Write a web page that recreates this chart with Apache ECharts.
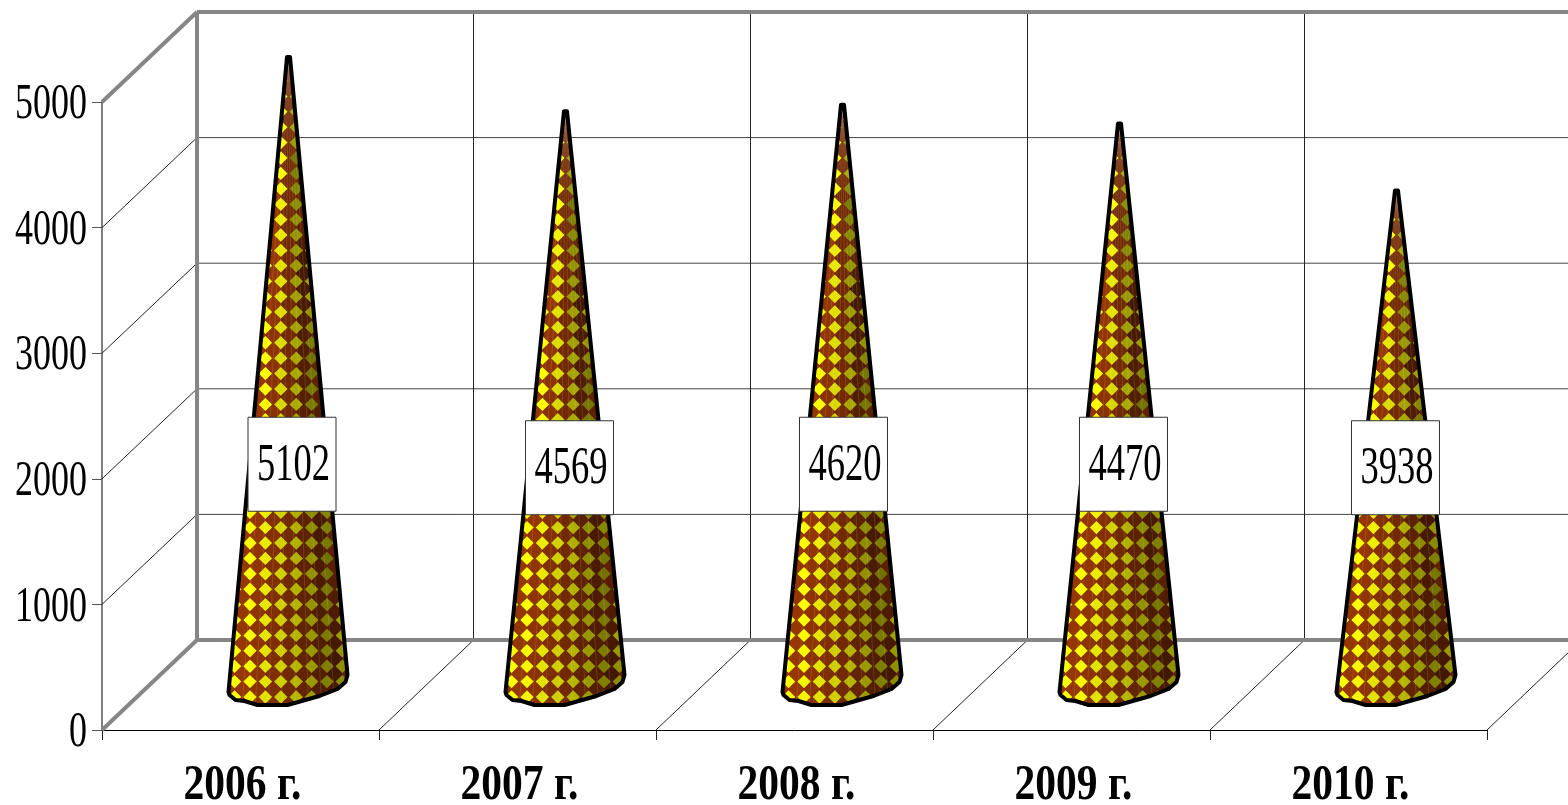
<!DOCTYPE html>
<html><head><meta charset="utf-8">
<style>html,body{margin:0;padding:0;background:#fff;overflow:hidden}#c{width:1568px;height:805px}</style>
<script src="https://cdn.jsdelivr.net/npm/echarts@6/dist/echarts.min.js"></script>
</head><body><div id="c"></div>
<script>
const categories = ['2006 г.', '2007 г.', '2008 г.', '2009 г.', '2010 г.'];
const values = [5102, 4569, 4620, 4470, 3938];
const yTicks = [0, 1000, 2000, 3000, 4000, 5000];
const yMax = 5000;

const SERIF = '"Liberation Serif","Times New Roman",serif';
const DEPTH_X = 95, DEPTH_Y = -90;          // full depth of the 3D box
const WALL = '#868686', THIN = '#222';
const YEL = [255,255,0], RED = [150,54,0];
// outline of the cone foot, relative to its centre
const FOOT = [[-60,7],[-59,10],[-53,15],[-44,16],[-31,20],[-1,20],[31,11],[49,4],[57,-3],[59,-10]];
// small per-box nudges of the value boxes
const BOX_NUDGE = [[3,0],[3.5,3.5],[0.5,0],[3.5,0],[-1.5,3.5]];

const line = (x1,y1,x2,y2,color,w) => ({type:'line',silent:true,shape:{x1,y1,x2,y2},style:{stroke:color,lineWidth:w,fill:null}});

function renderFrame(params, api){
  const o = api.coord([0,0]);
  const band = api.size([1,0])[0];
  const left = o[0]-band/2, bottom = o[1];
  const n = categories.length;
  const far = 1700;
  const children = [];
  yTicks.forEach(t=>{
    const y = api.coord([0,t])[1];
    if(t>0 && t<yMax){
      children.push(line(left+DEPTH_X,y+DEPTH_Y,far,y+DEPTH_Y,'#444',1));
      children.push(line(left,y,left+DEPTH_X,y+DEPTH_Y,THIN,1));
    }
  });
  for(let i=1;i<=n;i++){
    const x = left+band*i;
    const top = api.coord([0,yMax])[1]+DEPTH_Y;
    if(i<n) children.push(line(x+DEPTH_X-0.5,top,x+DEPTH_X-0.5,bottom+DEPTH_Y,THIN,1));
    children.push(line(x,bottom,x+DEPTH_X-0.5,bottom+DEPTH_Y,THIN,1));
  }
  const topY = api.coord([0,yMax])[1];
  children.push(line(left+DEPTH_X,topY+DEPTH_Y,far,topY+DEPTH_Y,WALL,4));
  children.push(line(left+DEPTH_X,bottom+DEPTH_Y,far,bottom+DEPTH_Y,WALL,4));
  children.push(line(left+DEPTH_X,topY+DEPTH_Y,left+DEPTH_X,bottom+DEPTH_Y,WALL,4));
  children.push(line(left,topY,left+DEPTH_X,topY+DEPTH_Y,WALL,4));
  children.push(line(left,bottom,left+DEPTH_X,bottom+DEPTH_Y,WALL,4));
  return {type:'group',children};
}

function shade(u){
  u = Math.max(-1,Math.min(1,u));
  if(u<-0.75) return 0;
  if(u<-0.1) return (u+0.75)/0.65*0.2;
  if(u<0.8) return 0.2+(u+0.1)/0.9*0.36;
  return 0.56-(u-0.8)/0.2*0.2;
}
const tint = (c,a) => 'rgb('+c.map(x=>Math.round(x*(1-a))).join(',')+')';

function renderCone(params, api){
  const i = api.value(0), v = Math.min(api.value(1), yMax);
  const o = api.coord([i,0]);
  const cx = o[0]+DEPTH_X/2+0.5, by = o[1]+DEPTH_Y/2;
  const ty = api.coord([i,v])[1]+DEPTH_Y/2;
  const outline = [[cx-1.5,ty]].concat(FOOT.map(p=>[cx+p[0],by+p[1]]),[[cx+1.5,ty]]);
  const kids = [{type:'polygon',silent:true,shape:{points:outline},style:{fill:tint(RED,0.25)}}];
  const STEP = 15.4, HALF = STEP/2;
  const half = y => Math.max(6, 60*(y-ty)/(by-ty));
  const diamond = (x,y,R,fill) => ({type:'polygon',silent:true,shape:{points:[[x-R,y],[x,y-R],[x+R,y],[x,y+R]]},style:{fill}});
  for(let k=-3;k*STEP<by-ty+STEP;k++){
    for(let j=-5;j<5;j++){           // dark cells between the yellow ones
      const x = cx+j*STEP, y = by-3.4-k*STEP+HALF;
      kids.push(diamond(x,y,8.6,tint(RED,shade((x-cx)/half(y)))));
    }
  }
  for(let k=-3;k*STEP<by-ty+STEP;k++){
    for(let j=-5;j<5;j++){
      const x = cx+(j+0.5)*STEP, y = by-3.4-k*STEP;
      kids.push(diamond(x,y,6.7,tint(YEL,shade((x-cx)/half(y)))));
    }
  }
  for(let f=1;f<9;f++){              // faint facet seams of the cone
    const a = -1+2*f/9;
    kids.push({type:'line',silent:true,shape:{x1:cx,y1:ty,x2:cx+a*60,y2:by+25},style:{stroke:'rgba(255,255,255,0.16)',lineWidth:0.8}});
  }
  return {type:'group',children:[
    {type:'group',children:kids,clipPath:{type:'polygon',shape:{points:outline}}},
    {type:'polygon',silent:true,shape:{points:outline},style:{fill:null,stroke:'#000',lineWidth:4,lineJoin:'round'}}
  ]};
}

function renderBox(params, api){
  const i = api.value(0);
  const o = api.coord([i,0]);
  const n = BOX_NUDGE[i];
  const cx = o[0]+DEPTH_X/2+1+n[0], cy = api.coord([i,2100])[1]-2+n[1];
  return {type:'group',children:[
    {type:'rect',silent:true,shape:{x:cx-44,y:cy-47,width:88,height:94},style:{fill:'#fff',stroke:'#333',lineWidth:1}},
    {type:'text',silent:true,x:cx+1.5,y:cy+1.5,scaleX:0.69,style:{text:String(api.value(1)),x:0,y:0,align:'center',verticalAlign:'middle',fontFamily:SERIF,fontSize:53,fill:'#000'}}
  ]};
}

function renderYLabel(params, api){
  const t = api.value(1);
  const p = api.coord([0,t]);
  const band = api.size([1,0])[0];
  return {type:'text',silent:true,x:p[0]-band/2-15,y:p[1]+3,scaleX:0.72,style:{text:String(t),x:0,y:0,align:'right',verticalAlign:'middle',fontFamily:SERIF,fontSize:50,fill:'#000'}};
}

function renderXLabel(params, api){
  const i = api.value(0);
  const p = api.coord([i,0]);
  return {type:'text',silent:true,x:p[0]+2,y:p[1]+56,scaleX:0.83,style:{text:categories[i],x:0,y:0,align:'center',verticalAlign:'middle',fontFamily:SERIF,fontWeight:'bold',fontSize:50,fill:'#000'}};
}

const chart = echarts.init(document.getElementById('c'),null,{renderer:'canvas'});
chart.setOption({
  animation:false,
  backgroundColor:'#fff',
  grid:{left:102,right:81,top:102,bottom:75,containLabel:false},
  xAxis:{type:'category',data:categories,boundaryGap:true,
    axisLine:{show:true,lineStyle:{color:'#000',width:1}},
    axisTick:{show:true,alignWithLabel:false,length:10,lineStyle:{color:'#222',width:1}},
    axisLabel:{show:false},splitLine:{show:false}},
  yAxis:{type:'value',min:0,max:yMax,interval:1000,
    axisLine:{show:true,lineStyle:{color:'#555',width:1.5}},
    axisTick:{show:true,length:10,lineStyle:{color:'#555',width:1}},
    axisLabel:{show:false},splitLine:{show:false}},
  series:[
    {type:'custom',name:'frame',z:1,clip:false,silent:true,renderItem:renderFrame,data:[[0,0]]},
    {type:'custom',name:'Значение',z:3,clip:false,silent:true,renderItem:renderCone,data:values.map((v,i)=>[i,v])},
    {type:'custom',name:'boxes',z:4,clip:false,silent:true,renderItem:renderBox,data:values.map((v,i)=>[i,v])},
    {type:'custom',name:'yLabels',z:4,clip:false,silent:true,renderItem:renderYLabel,data:yTicks.map(t=>[0,t])},
    {type:'custom',name:'xLabels',z:4,clip:false,silent:true,renderItem:renderXLabel,data:categories.map((c,i)=>[i,0])}
  ]
});
</script></body></html>
